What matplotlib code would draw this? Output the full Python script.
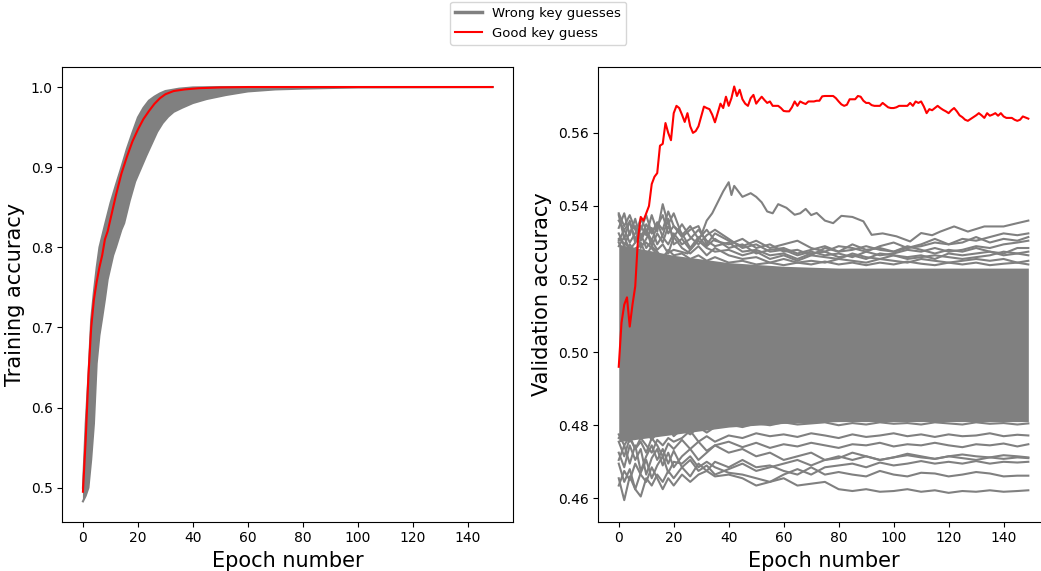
import numpy as np
import matplotlib.pyplot as plt
from matplotlib.lines import Line2D

GRAY = '#808080'
RED = '#ff0000'

# ------------------------------------------------------------------
# Left panel: training accuracy (band of wrong guesses + good guess)
# ------------------------------------------------------------------
train_up_ep = [0, 1, 2, 3, 4, 5, 6, 8, 10, 12, 14, 16, 18, 20, 22, 24, 26, 28, 30, 35, 40, 50, 149]
train_up = [0.500, 0.580, 0.640, 0.710, 0.745, 0.775, 0.800, 0.828, 0.855, 0.878, 0.900, 0.923,
            0.943, 0.962, 0.974, 0.983, 0.988, 0.992, 0.995, 0.998, 0.9995, 1.0, 1.0]

train_lo_ep = [0, 1, 2, 3, 4, 5, 6, 7, 8, 9, 10, 11, 12, 14, 15, 17, 19, 21, 23, 25, 27, 29, 31,
               33, 36, 40, 45, 52, 60, 70, 80, 100, 149]
train_lo = [0.483, 0.490, 0.500, 0.535, 0.580, 0.655, 0.690, 0.712, 0.735, 0.760, 0.775, 0.790,
            0.800, 0.822, 0.830, 0.858, 0.882, 0.898, 0.914, 0.929, 0.944, 0.955, 0.963, 0.969,
            0.974, 0.980, 0.985, 0.990, 0.9945, 0.997, 0.998, 0.9995, 1.0]

train_good_ep = [0, 1, 2, 3, 4, 5, 6, 7, 8, 9, 10, 12, 14, 16, 18, 20, 22, 24, 26, 28, 30, 33,
                 37, 42, 50, 60, 149]
train_good = [0.495, 0.560, 0.640, 0.700, 0.735, 0.757, 0.775, 0.790, 0.810, 0.820, 0.835, 0.865,
              0.892, 0.913, 0.932, 0.947, 0.960, 0.970, 0.979, 0.986, 0.991, 0.995, 0.997, 0.9985,
              0.9995, 1.0, 1.0]

# ------------------------------------------------------------------
# Right panel: validation accuracy
# ------------------------------------------------------------------
val_good = [0.496, 0.508, 0.513, 0.515, 0.507, 0.513, 0.518, 0.531, 0.537, 0.536,
            0.538, 0.540, 0.546, 0.548, 0.549, 0.5565, 0.557, 0.5627, 0.560, 0.558,
            0.5654, 0.5674, 0.5668, 0.565, 0.563, 0.5654, 0.5618, 0.560, 0.5605, 0.5618,
            0.5645, 0.5672, 0.5668, 0.5665, 0.565, 0.5629, 0.5655, 0.568, 0.5668, 0.5699,
            0.5674, 0.5695, 0.5727, 0.5701, 0.5718, 0.5692, 0.568, 0.5674, 0.5695, 0.5704,
            0.568, 0.569, 0.5699, 0.569, 0.5682, 0.5686, 0.5674, 0.5674, 0.5674, 0.5668,
            0.566, 0.5659, 0.5659, 0.567, 0.5686, 0.5674, 0.5686, 0.5682, 0.5679, 0.5686,
            0.5686, 0.5686, 0.5688, 0.5688, 0.570, 0.5701, 0.5701, 0.5701, 0.5701, 0.5695,
            0.5686, 0.5678, 0.5674, 0.5677, 0.5692, 0.5692, 0.5692, 0.5701, 0.5699, 0.5688,
            0.5682, 0.5682, 0.5676, 0.5674, 0.5674, 0.5674, 0.5682, 0.5676, 0.567, 0.5668,
            0.5668, 0.567, 0.5674, 0.5674, 0.5674, 0.5674, 0.5682, 0.5674, 0.5686, 0.5682,
            0.5686, 0.5672, 0.5654, 0.5665, 0.5662, 0.5668, 0.5674, 0.5668, 0.5663, 0.5659,
            0.5654, 0.5662, 0.5668, 0.5659, 0.5648, 0.5643, 0.5636, 0.5633, 0.5638, 0.5643,
            0.5648, 0.5654, 0.5648, 0.5641, 0.5654, 0.5647, 0.565, 0.5654, 0.5647, 0.5654,
            0.5645, 0.5641, 0.5641, 0.5641, 0.5636, 0.5633, 0.5636, 0.5645, 0.5642, 0.5639]
val_good_ep = list(range(len(val_good)))

# dense core of the wrong-key lines (upper / lower edge)
core_ep = [0, 10, 20, 30, 40, 50, 60, 80, 100, 120, 149]
core_up = [0.5295, 0.528, 0.5265, 0.5255, 0.5245, 0.524, 0.5235, 0.523, 0.523, 0.523, 0.523]
core_lo = [0.4755, 0.4765, 0.4775, 0.4785, 0.4795, 0.480, 0.4805, 0.481, 0.481, 0.481, 0.481]

# the wrong-key line that climbs above the others around epoch 40
top_ep = [0, 5, 10, 15, 20, 25, 28, 30, 32, 34, 36, 38, 40, 41, 42, 43, 45, 48, 50, 52, 54, 56,
          58, 61, 64, 66, 68, 70, 72, 75, 78, 81, 85, 89, 92, 96, 101, 106, 110, 114, 117, 122,
          127, 133, 140, 145, 149]
top_line = [0.531, 0.528, 0.530, 0.526, 0.528, 0.527, 0.530, 0.532, 0.536, 0.538, 0.541, 0.544,
            0.5465, 0.543, 0.5455, 0.5445, 0.5425, 0.5435, 0.5425, 0.541, 0.5385, 0.538, 0.5405,
            0.5395, 0.5376, 0.538, 0.5392, 0.5375, 0.5381, 0.536, 0.5353, 0.5373, 0.537, 0.5358,
            0.5321, 0.5325, 0.5317, 0.5303, 0.5326, 0.532, 0.533, 0.5344, 0.533, 0.5344, 0.5344,
            0.5353, 0.536]

# other lines on the fringe of the dense core
fringe_ep = [0, 2, 4, 6, 8, 10, 12, 14, 16, 18, 20, 23, 26, 29, 32, 35] + list(range(40, 150, 5)) + [149]

up1 = [0.5375, 0.531, 0.536, 0.530, 0.5345, 0.532, 0.5375, 0.533, 0.5405, 0.535, 0.538,
       0.532, 0.5345, 0.531, 0.5335, 0.5305,
       0.5295, 0.531, 0.5285, 0.5295, 0.5275, 0.528, 0.5265, 0.5285, 0.5275, 0.5295, 0.528, 0.5285,
       0.5275, 0.5285, 0.529, 0.530, 0.5295, 0.531, 0.5305, 0.5315, 0.5325, 0.532, 0.5325]
up2 = [0.534, 0.538, 0.532, 0.5365, 0.5305, 0.5335, 0.529, 0.5325, 0.530, 0.5345, 0.5315,
       0.535, 0.5315, 0.5295, 0.532, 0.5335,
       0.531, 0.5285, 0.5295, 0.5275, 0.528, 0.5265, 0.5275, 0.5265, 0.527, 0.526, 0.5275, 0.5265,
       0.527, 0.528, 0.5275, 0.5285, 0.5275, 0.528, 0.529, 0.5285, 0.5295, 0.530, 0.5305]
up3 = [0.5305, 0.5335, 0.5355, 0.531, 0.5335, 0.5375, 0.5325, 0.5355, 0.5315, 0.5295, 0.5325,
       0.5295, 0.531, 0.5335, 0.5305, 0.529,
       0.530, 0.5275, 0.528, 0.5265, 0.527, 0.5255, 0.527, 0.5275, 0.526, 0.5265, 0.5255, 0.527,
       0.5265, 0.526, 0.5265, 0.5255, 0.527, 0.5265, 0.527, 0.5275, 0.527, 0.5285, 0.5285]
up4 = [0.5325, 0.529, 0.533, 0.5345, 0.5285, 0.531, 0.534, 0.5295, 0.532, 0.5365, 0.5295,
       0.531, 0.528, 0.5305, 0.5285, 0.5275,
       0.528, 0.5265, 0.5275, 0.5255, 0.5265, 0.525, 0.5265, 0.526, 0.5255, 0.527, 0.526, 0.5255,
       0.5265, 0.5255, 0.526, 0.5265, 0.526, 0.5255, 0.526, 0.5265, 0.5275, 0.527, 0.5265]
up5 = [0.529, 0.5315, 0.528, 0.530, 0.5325, 0.5285, 0.5305, 0.528, 0.5295, 0.527, 0.5315,
       0.5285, 0.527, 0.529, 0.5265, 0.5285,
       0.5265, 0.5255, 0.526, 0.5245, 0.5255, 0.5245, 0.525, 0.5245, 0.5255, 0.525, 0.5245, 0.5255,
       0.525, 0.5245, 0.5255, 0.525, 0.5245, 0.525, 0.5255, 0.525, 0.5255, 0.5245, 0.525]
up6 = [0.536, 0.5335, 0.530, 0.5325, 0.5365, 0.5335, 0.5305, 0.5345, 0.5375, 0.5325, 0.5345,
       0.5325, 0.5285, 0.5315, 0.529, 0.531,
       0.5285, 0.5295, 0.527, 0.528, 0.5285, 0.527, 0.528, 0.529, 0.5275, 0.528, 0.529, 0.528,
       0.5275, 0.529, 0.528, 0.527, 0.528, 0.5275, 0.5285, 0.5275, 0.5265, 0.527, 0.5275]
up7 = [0.530, 0.527, 0.5295, 0.5275, 0.530, 0.5265, 0.529, 0.5275, 0.5255, 0.528, 0.5265,
       0.527, 0.5255, 0.5265, 0.525, 0.526,
       0.5245, 0.525, 0.524, 0.5245, 0.5238, 0.5245, 0.524, 0.5248, 0.524, 0.5245, 0.5238, 0.5245,
       0.524, 0.5248, 0.5242, 0.5238, 0.5245, 0.524, 0.5245, 0.5238, 0.5242, 0.5245, 0.524]
up8 = [0.538, 0.5345, 0.5375, 0.5335, 0.531, 0.535, 0.5325, 0.5355, 0.5335, 0.5385, 0.5345,
       0.5315, 0.5335, 0.5345, 0.5295, 0.5325,
       0.5305, 0.529, 0.5305, 0.5285, 0.5295, 0.5305, 0.5285, 0.5275, 0.529, 0.5285, 0.5275, 0.529,
       0.530, 0.5285, 0.5295, 0.531, 0.5295, 0.530, 0.5315, 0.530, 0.531, 0.5305, 0.5315]

lo1 = [0.4695, 0.4645, 0.468, 0.4625, 0.467, 0.4705, 0.4655, 0.469, 0.4715, 0.467, 0.470,
       0.4695, 0.4715, 0.4685, 0.470, 0.4685,
       0.467, 0.4665, 0.4655, 0.4645, 0.4655, 0.4635, 0.464, 0.4645, 0.4625, 0.462, 0.4625, 0.4618,
       0.462, 0.4625, 0.4618, 0.4622, 0.4615, 0.462, 0.4618, 0.4622, 0.4618, 0.462, 0.4622]
lo2 = [0.4655, 0.4595, 0.466, 0.4625, 0.4605, 0.4655, 0.4635, 0.4665, 0.4645, 0.4675, 0.4655,
       0.4685, 0.466, 0.4695, 0.4675, 0.470,
       0.4685, 0.4705, 0.4685, 0.469, 0.4675, 0.4665, 0.4685, 0.4665, 0.4672, 0.4665, 0.466, 0.4675,
       0.4665, 0.466, 0.467, 0.4668, 0.466, 0.4665, 0.4672, 0.4668, 0.466, 0.4662, 0.4662]
lo3 = [0.4725, 0.4685, 0.4745, 0.4705, 0.4735, 0.4665, 0.471, 0.4735, 0.469, 0.4725, 0.4685,
       0.4715, 0.4735, 0.4705, 0.4725, 0.4745,
       0.4725, 0.4735, 0.4715, 0.4725, 0.4705, 0.4715, 0.4725, 0.4705, 0.471, 0.4725, 0.4715, 0.4705,
       0.4712, 0.4722, 0.4715, 0.4708, 0.4715, 0.471, 0.4705, 0.4712, 0.4708, 0.4712, 0.471]
lo4 = [0.4755, 0.4715, 0.4765, 0.4735, 0.4755, 0.4725, 0.4765, 0.4745, 0.4715, 0.475, 0.4735,
       0.476, 0.4735, 0.4755, 0.473, 0.4745,
       0.4755, 0.474, 0.4752, 0.4738, 0.4748, 0.4742, 0.4752, 0.4745, 0.4738, 0.4748, 0.4745, 0.4752,
       0.4742, 0.4748, 0.4745, 0.4752, 0.4745, 0.474, 0.4748, 0.4745, 0.475, 0.4742, 0.4748]
lo5 = [0.4705, 0.4745, 0.4695, 0.4745, 0.4675, 0.4715, 0.4745, 0.4705, 0.4735, 0.4695, 0.473,
       0.4685, 0.4705, 0.4675, 0.469, 0.4665,
       0.468, 0.4695, 0.4675, 0.4685, 0.4695, 0.4705, 0.469, 0.4705, 0.4715, 0.4705, 0.4715, 0.4705,
       0.4712, 0.4718, 0.4712, 0.4708, 0.4715, 0.472, 0.4715, 0.4712, 0.4718, 0.4715, 0.4712]
lo6 = [0.4765, 0.4785, 0.4755, 0.478, 0.4765, 0.4785, 0.476, 0.478, 0.4775, 0.4795, 0.477,
       0.479, 0.4775, 0.4795, 0.478, 0.4795,
       0.4802, 0.4795, 0.4805, 0.480, 0.4808, 0.4802, 0.4805, 0.4808, 0.480, 0.4806, 0.4802, 0.4808,
       0.4804, 0.4806, 0.4802, 0.4808, 0.4805, 0.4802, 0.4808, 0.4804, 0.4806, 0.4802, 0.4805]
lo7 = [0.4775, 0.4745, 0.477, 0.4735, 0.4765, 0.4745, 0.4725, 0.476, 0.4745, 0.4765, 0.4755,
       0.4765, 0.4785, 0.4755, 0.477, 0.4755,
       0.4772, 0.4765, 0.4778, 0.477, 0.4775, 0.4768, 0.4778, 0.4772, 0.4765, 0.4775, 0.4768, 0.4772,
       0.4778, 0.477, 0.4775, 0.4768, 0.4775, 0.477, 0.4772, 0.4778, 0.477, 0.4774, 0.4772]
lo8 = [0.4635, 0.4675, 0.465, 0.4695, 0.4665, 0.4645, 0.4685, 0.4655, 0.4625, 0.4655, 0.4635,
       0.4665, 0.4645, 0.4665, 0.4675, 0.466,
       0.4665, 0.4655, 0.4635, 0.4645, 0.4665, 0.468, 0.4665, 0.4685, 0.469, 0.4695, 0.4685, 0.4698,
       0.469, 0.4695, 0.4702, 0.4695, 0.470, 0.4695, 0.4702, 0.4695, 0.470, 0.4698, 0.470]

fringe_lines = [up1, up2, up3, up4, up5, up6, up7, up8, lo1, lo2, lo3, lo4, lo5, lo6, lo7, lo8]

# ------------------------------------------------------------------
fig = plt.figure(figsize=(10.41, 5.71), dpi=100)
ax1 = fig.add_axes([0.0600, 0.0863, 0.4328, 0.7968])
ax2 = fig.add_axes([0.5747, 0.0863, 0.4328, 0.7968])

# training band: polygon between the fastest and the slowest run
band_x = np.concatenate([train_up_ep, train_lo_ep[::-1]])
band_y = np.concatenate([train_up, train_lo[::-1]])
ax1.fill(band_x, band_y, color=GRAY, lw=0)
ax1.plot(train_up_ep, train_up, color=GRAY, lw=1.5)
ax1.plot(train_lo_ep, train_lo, color=GRAY, lw=1.5)
ax1.plot(train_good_ep, train_good, color=RED, lw=1.5)
ax1.set_xlabel('Epoch number', fontsize=15)
ax1.set_ylabel('Training accuracy', fontsize=15)

# validation: dense core + outlying lines
ax2.fill_between(core_ep, core_lo, core_up, color=GRAY, lw=0)
for line in fringe_lines:
    ax2.plot(fringe_ep, line, color=GRAY, lw=1.5)
ax2.plot(top_ep, top_line, color=GRAY, lw=1.5)
ax2.plot(val_good_ep, val_good, color=RED, lw=1.5)
ax2.set_xlabel('Epoch number', fontsize=15)
ax2.set_ylabel('Validation accuracy', fontsize=15)

for ax in (ax1, ax2):
    ax.set_xticks(range(0, 141, 20))
    ax.set_xlim(-7.45, 156.45)
    ax.tick_params(labelsize=10)
ax1.set_ylim(0.4576, 1.0253)
ax2.set_ylim(0.4536, 0.5781)
ax2.set_yticks([0.46, 0.48, 0.50, 0.52, 0.54, 0.56])
ax2.set_yticklabels(['0.46', '0.48', '0.50', '0.52', '0.54', '0.56'])

handles = [Line2D([], [], color=GRAY, lw=2.5), Line2D([], [], color=RED, lw=1.5)]
fig.legend(handles, ['Wrong key guesses', 'Good key guess'], loc='upper center',
           bbox_to_anchor=(0.517, 0.997), borderaxespad=0, fontsize=9.5)

plt.savefig('out.png', dpi=100)
